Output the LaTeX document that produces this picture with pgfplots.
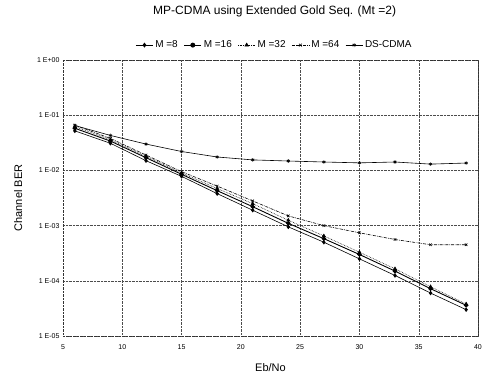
\documentclass[border=0pt]{standalone}
\usepackage{pgfplots}
\pgfplotsset{compat=1.18}
\usepackage{fontspec}
\setmainfont{Liberation Sans}
\begin{document}
\begin{tikzpicture}
\useasboundingbox (-63pt,-45pt) rectangle (424pt,336pt);
\begin{axis}[
  at={(0,0)}, anchor=south west,
  scale only axis, width=415pt, height=276pt,
  xmin=5, xmax=40, ymode=log, ymin=1e-5, ymax=1,
  xtick={5,10,...,40},
  ytick={1e-5,1e-4,1e-3,1e-2,1e-1,1},
  yticklabels={1 E-05,1 E-04,1 E-03,1 E-02,1 E-01,1 E+00},
  /pgf/number format/assume math mode=true,
  ticklabel style={font=\fontsize{7}{8}\selectfont},
  xticklabel style={yshift=-5pt},
  tick style={draw=none},
  grid=major,
  major grid style={black!70, densely dotted},
  axis line style={black!80, densely dotted},
  xlabel={Eb/No}, ylabel={Channel BER},
  label style={font=\fontsize{11}{13}\selectfont},
  xlabel style={at={(axis description cs:0.5,-0.116)}, anchor=center},
  ylabel style={at={(axis description cs:-0.108,0.5)}, anchor=center},
  title={MP-CDMA using Extended Gold Seq. (Mt =2)},
  title style={at={(axis description cs:0.51,1.156)}, anchor=center, font=\fontsize{12}{14}\selectfont},
  legend columns=5,
  legend style={at={(axis description cs:0.51,1.054)}, anchor=center, draw=none, fill=none,
    font=\fontsize{10}{12}\selectfont, /tikz/every even column/.append style={column sep=4pt}},
  legend image post style={mark size=2pt},
  every axis plot/.append style={black, line width=0.6pt, mark size=1.8pt},
]
\addplot[mark=diamond*] coordinates {(6,0.052)(9,0.031)(12,0.015)(15,0.0078)(18,0.0038)(21,0.0019)(24,9.5e-4)(27,5.0e-4)(30,2.5e-4)(33,1.25e-4)(36,6.0e-5)(39,3.0e-5)};
\addlegendentry{M =8}
\addplot[mark=*, line width=0.9pt] coordinates {(6,0.058)(9,0.034)(12,0.017)(15,0.0085)(18,0.0043)(21,0.0022)(24,1.1e-3)(27,5.8e-4)(30,3.0e-4)(33,1.5e-4)(36,7.2e-5)(39,3.6e-5)};
\addlegendentry{M =16}
\addplot[mark=triangle*, densely dotted, mark options={solid}] coordinates {(6,0.062)(9,0.036)(12,0.018)(15,0.009)(18,0.0047)(21,0.0025)(24,1.25e-3)(27,6.5e-4)(30,3.3e-4)(33,1.65e-4)(36,7.8e-5)(39,3.8e-5)};
\addlegendentry{M =32}
\addplot[mark=x, densely dashdotted, mark options={solid}] coordinates {(6,0.066)(9,0.038)(12,0.019)(15,0.0095)(18,0.0052)(21,0.0028)(24,1.5e-3)(27,1.0e-3)(30,7.4e-4)(33,5.6e-4)(36,4.5e-4)(39,4.5e-4)};
\addlegendentry{M =64}
\addplot[mark=asterisk] coordinates {(6,0.065)(9,0.043)(12,0.030)(15,0.022)(18,0.0175)(21,0.0155)(24,0.0148)(27,0.0142)(30,0.0137)(33,0.0142)(36,0.013)(39,0.0136)};
\addlegendentry{DS-CDMA}
\end{axis}
\end{tikzpicture}
\end{document}
